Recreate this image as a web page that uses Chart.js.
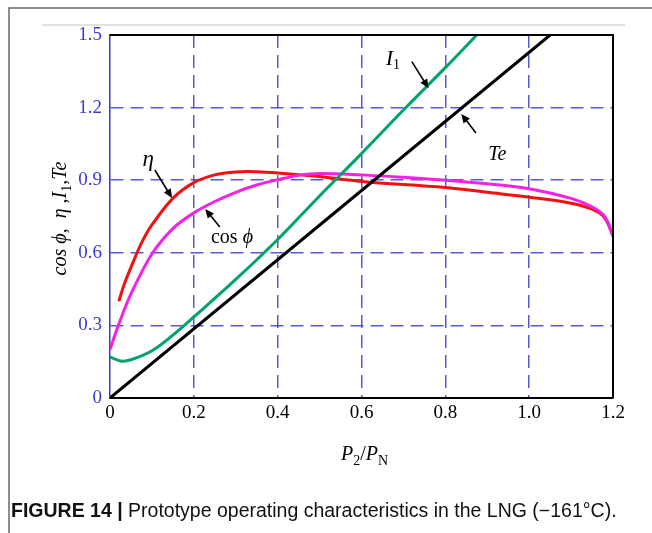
<!DOCTYPE html>
<html>
<head>
<meta charset="utf-8">
<script src="https://cdn.jsdelivr.net/npm/chart.js@4/dist/chart.umd.min.js"></script>
<style>
  body { margin: 0; background: #fff; }
  canvas { display: block; }
</style>
</head>
<body>
<canvas id="chart" width="652" height="533"></canvas>
<script>
// tick values
const xTicks = [0, 0.2, 0.4, 0.6, 0.8, 1.0, 1.2];
const yTicks = [0, 0.3, 0.6, 0.9, 1.2, 1.5];

// efficiency eta
const etaX = [0.021, 0.035, 0.05, 0.075, 0.1, 0.15, 0.2, 0.25, 0.3, 0.35, 0.4, 0.5, 0.6, 0.8, 0.9, 1.0, 1.1, 1.15, 1.18, 1.2];
const etaY = [0.40, 0.475, 0.54, 0.64, 0.715, 0.825, 0.89, 0.922, 0.934, 0.935, 0.93, 0.915, 0.895, 0.87, 0.85, 0.83, 0.805, 0.78, 0.745, 0.67];

// power factor cos phi
const cosX = [0, 0.02, 0.05, 0.1, 0.15, 0.2, 0.25, 0.3, 0.35, 0.4, 0.45, 0.5, 0.6, 0.7, 0.8, 0.9, 1.0, 1.1, 1.15, 1.18, 1.2];
const cosY = [0.2, 0.3, 0.43, 0.595, 0.7, 0.765, 0.812, 0.85, 0.88, 0.902, 0.92, 0.928, 0.922, 0.912, 0.90, 0.885, 0.865, 0.825, 0.79, 0.75, 0.67];

// stator current I1
const i1X = [0, 0.025, 0.05, 0.1, 0.15, 0.2, 0.3, 0.4, 0.5, 0.6, 0.7, 0.8, 0.875];
const i1Y = [0.17, 0.153, 0.158, 0.195, 0.26, 0.335, 0.49, 0.655, 0.835, 1.01, 1.19, 1.365, 1.5];

// torque Te
const teX = [0, 1.05];
const teY = [0, 1.5];

const toPoints = (xs, ys) => xs.map((x, i) => ({ x: x, y: ys[i] }));

const gridBlue = 'rgba(60, 60, 200, 0.85)';
const tickBlue = '#3c3cc8';

function line(label, xs, ys, color) {
  return {
    label: label,
    data: toPoints(xs, ys),
    showLine: true,
    borderColor: color,
    backgroundColor: color,
    borderWidth: 3,
    pointRadius: 0,
    tension: 0.35,
    fill: false
  };
}

// arrows and labels placed in data coordinates
const notes = [
  { text: 'η', at: [0.091, 0.985], from: [0.107, 0.942], to: [0.148, 0.826] },
  { text: 'cosϕ', at: [0.291, 0.661], from: [0.262, 0.707], to: [0.227, 0.781] },
  { text: 'I1', at: [0.675, 1.40], from: [0.72, 1.39], to: [0.76, 1.28] },
  { text: 'Te', at: [0.924, 1.004], from: [0.873, 1.095], to: [0.838, 1.174] }
];

function arrow(ctx, x1, y1, x2, y2) {
  const a = Math.atan2(y2 - y1, x2 - x1);
  const len = 9, w = 4;
  ctx.beginPath();
  ctx.moveTo(x1, y1);
  ctx.lineTo(x2 - Math.cos(a) * len * 0.8, y2 - Math.sin(a) * len * 0.8);
  ctx.stroke();
  ctx.beginPath();
  ctx.moveTo(x2, y2);
  ctx.lineTo(x2 - Math.cos(a) * len + Math.sin(a) * w, y2 - Math.sin(a) * len - Math.cos(a) * w);
  ctx.lineTo(x2 - Math.cos(a) * len - Math.sin(a) * w, y2 - Math.sin(a) * len + Math.cos(a) * w);
  ctx.closePath();
  ctx.fill();
}

// draw a run of text pieces [text, font, dy] starting at x
function runs(ctx, parts, x, y) {
  let cx = x;
  parts.forEach(p => {
    ctx.font = p[1];
    ctx.fillText(p[0], cx, y + (p[2] || 0));
    cx += ctx.measureText(p[0]).width;
  });
  return cx;
}
function runsWidth(ctx, parts) {
  let w = 0;
  parts.forEach(p => { ctx.font = p[1]; w += ctx.measureText(p[0]).width; });
  return w;
}

const serifI = 'italic 20px "Liberation Serif", "DejaVu Serif", serif';
const serifR = '20px "Liberation Serif", "DejaVu Serif", serif';
const serifSub = '14px "Liberation Serif", "DejaVu Serif", serif';

const decor = {
  id: 'decor',
  beforeDraw(chart) {
    const ctx = chart.ctx;
    ctx.save();
    // figure frame (top and left edges)
    ctx.strokeStyle = '#6a6a6a';
    ctx.lineWidth = 1.5;
    ctx.beginPath();
    ctx.moveTo(9, chart.height);
    ctx.lineTo(9, 8);
    ctx.lineTo(chart.width, 8);
    ctx.stroke();
    // light separator above the plot
    ctx.strokeStyle = '#e2e2e2';
    ctx.lineWidth = 2;
    ctx.beginPath();
    ctx.moveTo(42, 25);
    ctx.lineTo(625, 25);
    ctx.stroke();
    ctx.restore();
  },
  afterDraw(chart) {
    const ctx = chart.ctx;
    const a = chart.chartArea;
    const xs = chart.scales.x, ys = chart.scales.y;
    ctx.save();
    // top and right frame
    ctx.strokeStyle = '#000';
    ctx.lineWidth = 2;
    ctx.beginPath();
    ctx.moveTo(a.left, a.top);
    ctx.lineTo(a.right, a.top);
    ctx.lineTo(a.right, a.bottom);
    ctx.stroke();

    // annotations
    ctx.fillStyle = '#000';
    ctx.strokeStyle = '#000';
    ctx.lineWidth = 1.6;
    ctx.textBaseline = 'middle';
    notes.forEach(n => {
      arrow(ctx, xs.getPixelForValue(n.from[0]), ys.getPixelForValue(n.from[1]),
                 xs.getPixelForValue(n.to[0]), ys.getPixelForValue(n.to[1]));
      const px = xs.getPixelForValue(n.at[0]), py = ys.getPixelForValue(n.at[1]);
      let parts;
      if (n.text === 'cosϕ') parts = [['cos', serifR], [' ', serifR], ['ϕ', serifI]];
      else if (n.text === 'I1') parts = [['I', 'italic 22px "Liberation Serif", serif'], ['1', serifSub, 6]];
      else if (n.text === 'η') parts = [['η', 'italic 23px "Liberation Serif", serif']];
      else parts = [['Te', serifI]];
      const w = runsWidth(ctx, parts);
      runs(ctx, parts, px - w / 2, py);
    });

    // x axis title  P2/PN
    ctx.textBaseline = 'alphabetic';
    const xt = [['P', serifI], ['2', serifSub, 5], ['/', serifR], ['P', serifI], ['N', serifSub, 5]];
    const xw = runsWidth(ctx, xt);
    runs(ctx, xt, (a.left + a.right) / 2 - xw / 2 + 3, 460);

    // y axis title (rotated)
    ctx.save();
    ctx.translate(66, (a.top + a.bottom) / 2 + 2);
    ctx.rotate(-Math.PI / 2);
    const yt = [['cos ϕ,  η ,I', serifI], ['1', serifSub, 5], [',Te', serifI]];
    const yw = runsWidth(ctx, yt);
    runs(ctx, yt, -yw / 2, 0);
    ctx.restore();

    // caption, sized to span the figure width
    const cap = [['FIGURE 14 ', 'bold 100px "Liberation Sans", Arial, sans-serif'], ['|', 'bold 100px "Liberation Sans", Arial, sans-serif'],
                 [' Prototype operating characteristics in the LNG (\u2212161\u00B0C).', '100px "Liberation Sans", Arial, sans-serif']];
    const size = Math.min(20, 100 * 606 / runsWidth(ctx, cap));
    const capSized = cap.map(p => [p[0], p[1].replace('100px', size.toFixed(1) + 'px')]);
    ctx.fillStyle = '#111';
    runs(ctx, capSized, 11, 517);
    ctx.restore();
  }
};

const ctx = document.getElementById('chart').getContext('2d');
new Chart(ctx, {
  type: 'scatter',
  data: {
    datasets: [
      line('Te', teX, teY, '#000000'),
      line('I1', i1X, i1Y, '#00a36a'),
      line('cos phi', cosX, cosY, '#f422e4'),
      line('eta', etaX, etaY, '#f21010')
    ]
  },
  options: {
    responsive: false,
    animation: false,
    layout: { padding: { left: 0, top: 35, right: 39, bottom: 0 } },
    plugins: { legend: { display: false }, tooltip: { enabled: false } },
    scales: {
      x: {
        type: 'linear',
        min: 0,
        max: 1.2,
        afterBuildTicks: s => { s.ticks = xTicks.map(v => ({ value: v })); },
        afterFit: s => { s.height = 135; },
        grid: {
          drawTicks: false,
          lineWidth: 1.5,
          color: c => (c.tick && (c.tick.value === 0 || c.tick.value === 1.2)) ? 'rgba(0,0,0,0)' : gridBlue
        },
        border: { color: '#000', width: 2, dash: [13, 7] },
        ticks: {
          color: '#000',
          padding: 4,
          maxRotation: 0,
          font: { family: '"Liberation Serif", serif', size: 19 },
          callback: v => v === 0 ? '0' : v.toFixed(1)
        }
      },
      y: {
        type: 'linear',
        min: 0,
        max: 1.5,
        afterBuildTicks: s => { s.ticks = yTicks.map(v => ({ value: v })); },
        afterFit: s => { s.width = 110; },
        grid: {
          drawTicks: false,
          lineWidth: 1.5,
          color: c => (c.tick && (c.tick.value === 0 || c.tick.value === 1.5)) ? 'rgba(0,0,0,0)' : gridBlue
        },
        border: { color: '#3434e6', width: 1.5, dash: [13, 7] },
        ticks: {
          color: tickBlue,
          padding: 8,
          font: { family: '"Liberation Serif", serif', size: 19 },
          callback: v => v === 0 ? '0' : v.toFixed(1)
        }
      }
    }
  },
  plugins: [decor]
});
</script>
</body>
</html>
